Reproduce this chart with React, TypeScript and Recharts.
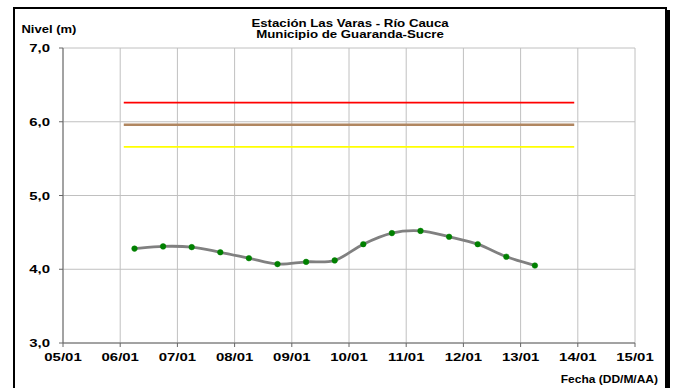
import React from "react";
import { ComposedChart, Line, XAxis, YAxis, CartesianGrid } from "recharts";

// ---- Data ----
const fechas = [
  "06/01 06:00", "06/01 18:00", "07/01 06:00", "07/01 18:00", "08/01 06:00",
  "08/01 18:00", "09/01 06:00", "09/01 18:00", "10/01 06:00", "10/01 18:00",
  "11/01 06:00", "11/01 18:00", "12/01 06:00", "12/01 18:00", "13/01 06:00",
];
const niveles = [4.28, 4.31, 4.3, 4.23, 4.15, 4.07, 4.1, 4.12, 4.34, 4.49, 4.52, 4.44, 4.34, 4.17, 4.05];

const tickFechas = ["05/01", "06/01", "07/01", "08/01", "09/01", "10/01", "11/01", "12/01", "13/01", "14/01", "15/01"];
const tickNiveles = [3, 4, 5, 6, 7];
const tickNivelLabels = ["3,0", "4,0", "5,0", "6,0", "7,0"];

const umbralInicio = "06/01 01:30";
const umbralFin = "13/01 22:30";
const umbralRojo = 6.26;
const umbralNaranja = 5.96;
const umbralAmarillo = 5.66;

const titulo1 = "Estación Las Varas - Río Cauca";
const titulo2 = "Municipio de Guaranda-Sucre";
const ejeY = "Nivel (m)";
const ejeX = "Fecha (DD/M/AA)";

// ---- Helpers ----
const parseFecha = (s: string) => {
  const [d, t] = s.split(" ");
  const [dd, mm] = d.split("/").map(Number);
  const [hh, mi] = (t || "00:00").split(":").map(Number);
  return Date.UTC(2011, mm - 1, dd, hh, mi);
};

const serie = fechas.map((f, i) => ({ t: parseFecha(f), nivel: niveles[i] }));
const xTicks = tickFechas.map((f) => parseFecha(f));
const mkUmbral = (v: number) => [
  { t: parseFecha(umbralInicio), v },
  { t: parseFecha(umbralFin), v },
];

const FONT = "'Liberation Sans', Arial, sans-serif";
const SX = 1.3;

// Excel-like smoothing (Catmull-Rom through points)
const excelCurve = (context: any) => {
  let pts: [number, number][] = [];
  return {
    areaStart() {},
    areaEnd() {},
    lineStart() {
      pts = [];
    },
    point(x: number, y: number) {
      pts.push([+x, +y]);
    },
    lineEnd() {
      const n = pts.length;
      if (!n) return;
      context.moveTo(pts[0][0], pts[0][1]);
      for (let i = 0; i < n - 1; i++) {
        const p0 = pts[i - 1] || pts[i];
        const p1 = pts[i];
        const p2 = pts[i + 1];
        const p3 = pts[i + 2] || p2;
        const c1x = p1[0] + (p2[0] - p0[0]) / 6;
        const c1y = p1[1] + (p2[1] - p0[1]) / 6;
        const c2x = p2[0] - (p3[0] - p1[0]) / 6;
        const c2y = p2[1] - (p3[1] - p1[1]) / 6;
        context.bezierCurveTo(c1x, c1y, c2x, c2y, p2[0], p2[1]);
      }
    },
  };
};

const XTick = (props: any) => {
  const { x, y, payload } = props;
  const idx = xTicks.indexOf(payload.value);
  return (
    <text
      transform={`translate(${x},${y}) scale(${SX},1)`}
      textAnchor="middle"
      dy="0.71em"
      fontFamily={FONT}
      fontWeight="bold"
      fontSize={11.5}
      fill="#000"
    >
      {idx >= 0 ? tickFechas[idx] : ""}
    </text>
  );
};

const YTick = (props: any) => {
  const { x, y, payload } = props;
  const idx = tickNiveles.indexOf(payload.value);
  return (
    <text
      transform={`translate(${x},${y}) scale(${SX},1)`}
      textAnchor="end"
      dy="0.36em"
      fontFamily={FONT}
      fontWeight="bold"
      fontSize={11.5}
      fill="#000"
    >
      {idx >= 0 ? tickNivelLabels[idx] : ""}
    </text>
  );
};

export default function App() {
  return (
    <div style={{ position: "absolute", left: 0, top: 0, width: 676, height: 388, overflow: "hidden", background: "#fff" }}>
      <div
        style={{
          position: "absolute",
          left: 13,
          top: 7,
          width: 654,
          height: 420,
          boxSizing: "border-box",
          border: "2px solid #000",
          boxShadow: "3px 3px 0 #000",
        }}
      />
      <div style={{ position: "absolute", left: 0, top: 0 }}>
        <ComposedChart width={676} height={388} margin={{ top: 48, right: 41, bottom: 0, left: 0 }}>
          <CartesianGrid stroke="#c0c0c0" strokeWidth={1} verticalPoints={undefined} />
          <XAxis
            dataKey="t"
            type="number"
            domain={[xTicks[0], xTicks[xTicks.length - 1]]}
            ticks={xTicks}
            allowDataOverflow
            height={45}
            tickSize={4}
            tickMargin={6}
            stroke="#666"
            tickLine={{ stroke: "#666" }}
            tick={<XTick />}
            interval={0}
          />
          <YAxis
            type="number"
            domain={[3, 7]}
            ticks={tickNiveles}
            width={63}
            tickSize={4}
            tickMargin={9}
            stroke="#666"
            tickLine={{ stroke: "#666" }}
            tick={<YTick />}
            interval={0}
          />
          <Line data={mkUmbral(umbralRojo)} dataKey="v" stroke="#ff0000" strokeWidth={1.8} dot={false} isAnimationActive={false} />
          <Line data={mkUmbral(umbralNaranja)} dataKey="v" stroke="#b08660" strokeWidth={2.5} dot={false} isAnimationActive={false} />
          <Line data={mkUmbral(umbralAmarillo)} dataKey="v" stroke="#ffff00" strokeWidth={1.8} dot={false} isAnimationActive={false} />
          <Line
            data={serie}
            dataKey="nivel"
            type={excelCurve as any}
            stroke="#808080"
            strokeWidth={2.8}
            dot={{ r: 2.8, fill: "#008000", stroke: "#008000", strokeWidth: 0.5 }}
            isAnimationActive={false}
          />
        </ComposedChart>
      </div>
      <svg width={676} height={388} style={{ position: "absolute", left: 0, top: 0, pointerEvents: "none" }}>
        <text transform={`translate(350,26.5) scale(${SX},1)`} textAnchor="middle" fontFamily={FONT} fontWeight="bold" fontSize={10.2} fill="#000">
          {titulo1}
        </text>
        <text transform={`translate(350,37.8) scale(${SX},1)`} textAnchor="middle" fontFamily={FONT} fontWeight="bold" fontSize={10.2} fill="#000">
          {titulo2}
        </text>
        <text transform={`translate(21.5,33.3) scale(${SX},1)`} textAnchor="start" fontFamily={FONT} fontWeight="bold" fontSize={10} fill="#000">
          {ejeY}
        </text>
        <text transform={`translate(658,383) scale(1.2,1)`} textAnchor="end" fontFamily={FONT} fontWeight="bold" fontSize={10} fill="#000">
          {ejeX}
        </text>
      </svg>
    </div>
  );
}
